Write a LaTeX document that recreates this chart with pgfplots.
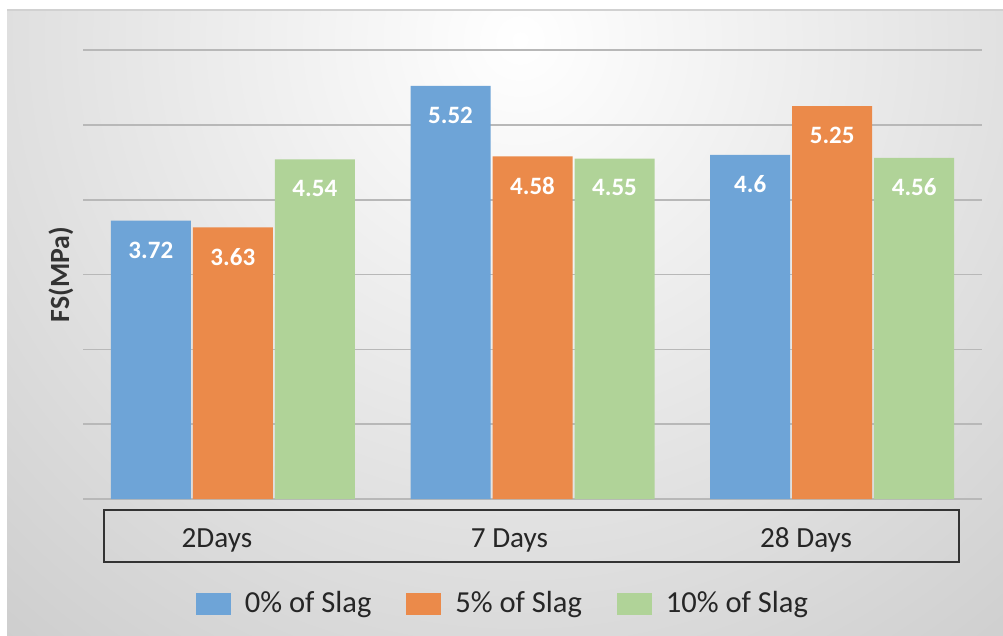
\documentclass[border=0pt]{standalone}
\usepackage{pgfplots}
\pgfplotsset{compat=1.18}
\usepackage{fontspec}
\setmainfont{Carlito}
\definecolor{cblue}{RGB}{110,164,215}
\definecolor{corange}{RGB}{235,138,74}
\definecolor{cgreen}{RGB}{176,211,152}
\begin{document}
\begin{tikzpicture}
\path[use as bounding box] (0,0) rectangle (361.08pt,228.6pt);
\begin{scope}
\clip (2.52pt,0) rectangle (361.08pt,225pt);
\shade[inner color=white, outer color=black!25] (187.2pt,214.2pt) circle (370pt);
\end{scope}
\draw[black!18, line width=0.5pt] (2.52pt,225pt) -- (361.08pt,225pt);
\begin{axis}[
  at={(29.88pt,48.96pt)}, anchor=south west,
  scale only axis, width=323.64pt, height=161.64pt,
  xmin=-0.5, xmax=2.5, ymin=0, ymax=6,
  ytick={0,1,...,6}, yticklabels={},
  ymajorgrids, grid style={black!28, line width=0.6pt},
  axis line style={draw=none},
  major tick length=0pt,
  xtick={-0.053,0.923,1.913},
  xticklabels={2Days,7 Days,28 Days},
  xticklabel style={anchor=center, yshift=-14.76pt, font=\fontsize{10.5}{12}\selectfont, text=black!85},
  ybar=0.72pt, bar width=28.8pt,
  /pgf/number format/assume math mode=true,
  nodes near coords,
  every node near coord/.append style={anchor=center, yshift=-10.6pt, text=white, font=\bfseries\fontsize{9}{10}\selectfont},
  ylabel={FS(MPa)},
  ylabel style={at={(axis description cs:-0.0245,0.5)}, anchor=center, font=\bfseries\fontsize{10}{12}\selectfont, text=black!80},
  legend style={at={(0.466,-0.2339)}, anchor=center, legend columns=3, draw=none, fill=none,
    font=\fontsize{11}{13}\selectfont,
    /tikz/every even column/.append style={column sep=12.6pt},
    /tikz/every odd column/.append style={column sep=5pt},
    nodes={inner sep=0pt, text=black!85}},
  legend image code/.code={\fill[#1] (0pt,-3.95pt) rectangle (12.6pt,3.95pt);},
]
\addplot[fill=cblue, draw=none] coordinates {(0,3.72) (1,5.52) (2,4.6)};
\addplot[fill=corange, draw=none] coordinates {(0,3.63) (1,4.58) (2,5.25)};
\addplot[fill=cgreen, draw=none] coordinates {(0,4.54) (1,4.55) (2,4.56)};
\legend{0\% of Slag,5\% of Slag,10\% of Slag}
\end{axis}
\draw[black!80, line width=0.9pt] (37.44pt,26.28pt) rectangle (345.24pt,45pt);
\end{tikzpicture}
\end{document}
